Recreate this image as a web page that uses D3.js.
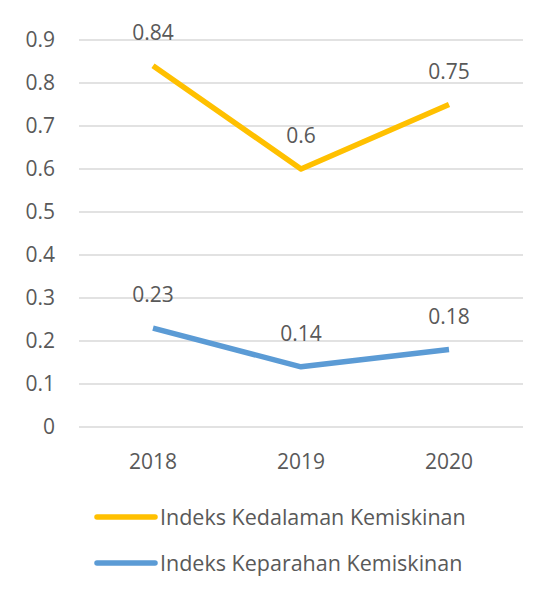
<!DOCTYPE html>
<html>
<head>
<meta charset="utf-8">
<script src="https://cdn.jsdelivr.net/npm/d3@7"></script>
<style>
  body { margin: 0; background: #fff; }
  text { font-family: 'Open Sans', 'Noto Sans', sans-serif; fill: #595959; }
</style>
</head>
<body>
<div id="chart-area"></div>
<script>
// data
var years = ['2018', '2019', '2020']
var kedalaman = [0.84, 0.6, 0.75]
var keparahan = [0.23, 0.14, 0.18]
var yTicks = [0, 0.1, 0.2, 0.3, 0.4, 0.5, 0.6, 0.7, 0.8, 0.9]

var series = [
    { name: 'Indeks Kedalaman Kemiskinan', values: kedalaman, color: '#FFC000' },
    { name: 'Indeks Keparahan Kemiskinan', values: keparahan, color: '#5B9BD5' }
]

var margin = { left: 79, right: 21, top: 40, bottom: 165 }
var width = 544 - margin.left - margin.right
var height = 592 - margin.top - margin.bottom

var svg = d3.select('#chart-area')
    .append('svg')
        .attr('width', 544)
        .attr('height', 592)

var g = svg.append('g')
    .attr('transform', `translate(${margin.left}, ${margin.top})`)

var x = d3.scaleBand()
    .domain(years)
    .range([0, width])

var y = d3.scaleLinear()
    .domain([0, 0.9])
    .range([height, 0])

// gridlines
g.selectAll('.grid')
    .data(yTicks)
    .enter().append('line')
        .attr('class', 'grid')
        .attr('x1', 0)
        .attr('x2', width)
        .attr('y1', d => y(d))
        .attr('y2', d => y(d))
        .attr('stroke', '#D9D9D9')
        .attr('stroke-width', 1.5)

// Y Axis
var yAxis = g.append('g')
    .call(d3.axisLeft(y).tickValues(yTicks).tickSize(0).tickPadding(24)
        .tickFormat(d => d === 0 ? '0' : d3.format('.1f')(d)))
yAxis.select('.domain').remove()
yAxis.selectAll('text')
    .attr('font-size', '21px')
    .attr('fill', '#595959')

// X Axis
var xAxis = g.append('g')
    .attr('transform', `translate(0, ${height})`)
    .call(d3.axisBottom(x).tickSize(0).tickPadding(27))
xAxis.select('.domain').remove()
xAxis.selectAll('text')
    .attr('font-size', '21px')
    .attr('fill', '#595959')

var line = d3.line()
    .x((d, i) => x(years[i]) + x.bandwidth() / 2)
    .y(d => y(d))

series.forEach(s => {
    g.append('path')
        .datum(s.values)
        .attr('fill', 'none')
        .attr('stroke', s.color)
        .attr('stroke-width', 5.5)
        .attr('stroke-linejoin', 'round')
        .attr('d', line)

    g.selectAll(null)
        .data(s.values)
        .enter().append('text')
            .attr('x', (d, i) => x(years[i]) + x.bandwidth() / 2)
            .attr('y', d => y(d) - 26)
            .attr('text-anchor', 'middle')
            .attr('font-size', '21px')
            .text(d => d)
})

// legend
var legend = svg.append('g')
    .attr('transform', 'translate(97, 517)')

series.forEach((s, i) => {
    var row = legend.append('g')
        .attr('transform', `translate(0, ${i * 46})`)
    row.append('line')
        .attr('x1', 0)
        .attr('x2', 58)
        .attr('stroke', s.color)
        .attr('stroke-width', 5.5)
        .attr('stroke-linecap', 'round')
    row.append('text')
        .attr('x', 63)
        .attr('dy', '0.35em')
        .attr('font-size', '21.5px')
        .text(s.name)
})
</script>
</body>
</html>
